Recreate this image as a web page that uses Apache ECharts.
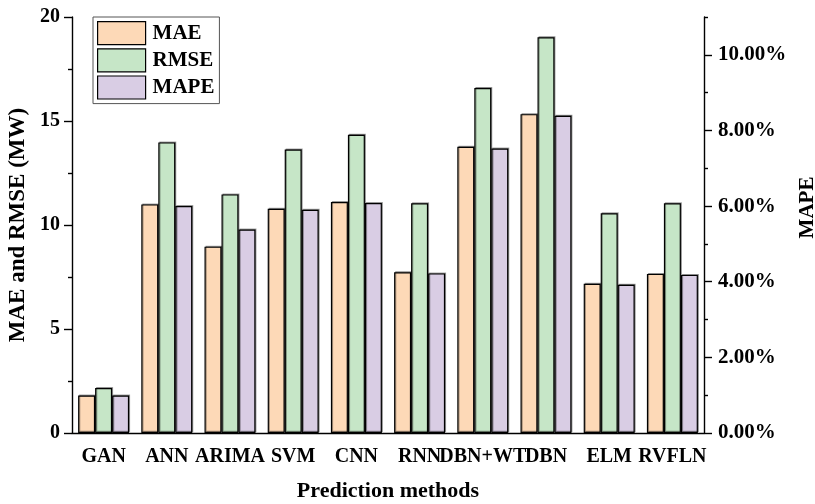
<!DOCTYPE html>
<html>
<head>
<meta charset="utf-8">
<script src="https://cdn.jsdelivr.net/npm/echarts@6/dist/echarts.min.js"></script>
<style>
  html, body { margin: 0; padding: 0; background: #fff; }
  #chart { width: 815px; height: 504px; }
</style>
</head>
<body>
<div id="chart"></div>
<script>
// data
const methods = ['GAN', 'ANN', 'ARIMA', 'SVM', 'CNN', 'RNN', 'DBN+WT', 'DBN', 'ELM', 'RVFLN']
const mae = [1.80, 10.99, 8.96, 10.78, 11.10, 7.73, 13.76, 15.33, 7.17, 7.65]
const rmse = [2.16, 13.97, 11.47, 13.63, 14.34, 11.04, 16.59, 19.03, 10.56, 11.04]
const mape = [0.99, 6.00, 5.38, 5.90, 6.08, 4.22, 7.52, 8.39, 3.92, 4.18] // percent
const mapeLabels = [0, 2, 4, 6, 8, 10]
const mapeMinor = [1, 3, 5, 7, 9, 11]

const font = '"Liberation Serif", "Times New Roman", serif'
const colors = { mae: '#fdd9b7', rmse: '#c6e6c7', mape: '#d9cde4' }

const barStyle = (c) => ({
  color: c,
  borderColor: '#000',
  borderWidth: 1.2,
  shadowColor: 'rgba(0,0,0,0.35)',
  shadowOffsetX: 1,
  shadowOffsetY: -1,
})

const labelStyle = { color: '#000', fontFamily: font, fontWeight: 'bold', fontSize: 20 }
const titleStyle = (size) => ({ color: '#000', fontFamily: font, fontWeight: 'bold', fontSize: size })
const lineStyle = { color: '#000', width: 1.4 }

const chart = echarts.init(document.getElementById('chart'))

chart.setOption({
  animation: false,
  grid: { left: 72, right: 111, top: 17, bottom: 71, containLabel: false, outerBoundsMode: 'none' },
  legend: {
    data: ['MAE', 'RMSE', 'MAPE'],
    orient: 'vertical',
    left: 93,
    top: 17,
    padding: [4, 5, 4, 4],
    itemGap: 3,
    itemWidth: 48,
    itemHeight: 23,
    icon: 'rect',
    borderColor: '#555',
    borderWidth: 1,
    itemStyle: { borderColor: '#000', borderWidth: 1.2, shadowBlur: 0, shadowOffsetX: 0, shadowOffsetY: 0 },
    textStyle: { ...titleStyle(21), padding: [0, 0, 0, 2] },
  },
  xAxis: [
    {
      type: 'category',
      data: methods,
      name: 'Prediction methods',
      nameLocation: 'middle',
      nameGap: 47,
      nameTextStyle: titleStyle(22),
      axisLine: { lineStyle },
      axisTick: { alignWithLabel: true, length: 8, lineStyle },
      axisLabel: { ...labelStyle, margin: 14, interval: 0 },
    },
    {
      // boundary ticks between categories
      type: 'category',
      data: methods,
      position: 'bottom',
      axisLine: { show: false },
      axisTick: { length: 4, lineStyle },
      axisLabel: { show: false },
    },
  ],
  yAxis: [
    {
      type: 'value',
      min: 0,
      max: 20,
      interval: 5,
      name: 'MAE and RMSE (MW)',
      nameLocation: 'middle',
      nameGap: 40,
      nameTextStyle: titleStyle(23),
      axisLine: { show: true, lineStyle },
      axisTick: { show: true, length: 8, lineStyle },
      minorTick: { show: true, splitNumber: 2, length: 4, lineStyle },
      axisLabel: { ...labelStyle, margin: 12 },
      splitLine: { show: false },
    },
    {
      type: 'value',
      position: 'right',
      min: 0,
      max: 11,
      name: 'MAPE',
      nameLocation: 'middle',
      nameGap: 91,
      nameTextStyle: { ...titleStyle(21), padding: [0, 0, 0, 35] },
      axisLine: { show: true, lineStyle },
      axisTick: { show: true, length: 8, lineStyle, customValues: mapeLabels },
      axisLabel: {
        ...labelStyle,
        fontSize: 21,
        margin: 14,
        customValues: mapeLabels,
        formatter: (v) => v.toFixed(2) + '%',
      },
      splitLine: { show: false },
    },
    {
      // minor ticks of the MAPE axis
      type: 'value',
      position: 'right',
      min: 0,
      max: 11,
      axisLine: { show: false },
      axisTick: { show: true, length: 4, lineStyle, customValues: mapeMinor },
      axisLabel: { show: false, customValues: mapeMinor },
      splitLine: { show: false },
    },
  ],
  series: [
    { name: 'MAE', type: 'bar', data: mae, yAxisIndex: 0, barWidth: 17, barGap: '0%', itemStyle: barStyle(colors.mae) },
    { name: 'RMSE', type: 'bar', data: rmse, yAxisIndex: 0, barWidth: 17, barGap: '0%', itemStyle: barStyle(colors.rmse) },
    { name: 'MAPE', type: 'bar', data: mape, yAxisIndex: 1, barWidth: 17, barGap: '0%', itemStyle: barStyle(colors.mape) },
  ],
})
</script>
</body>
</html>
